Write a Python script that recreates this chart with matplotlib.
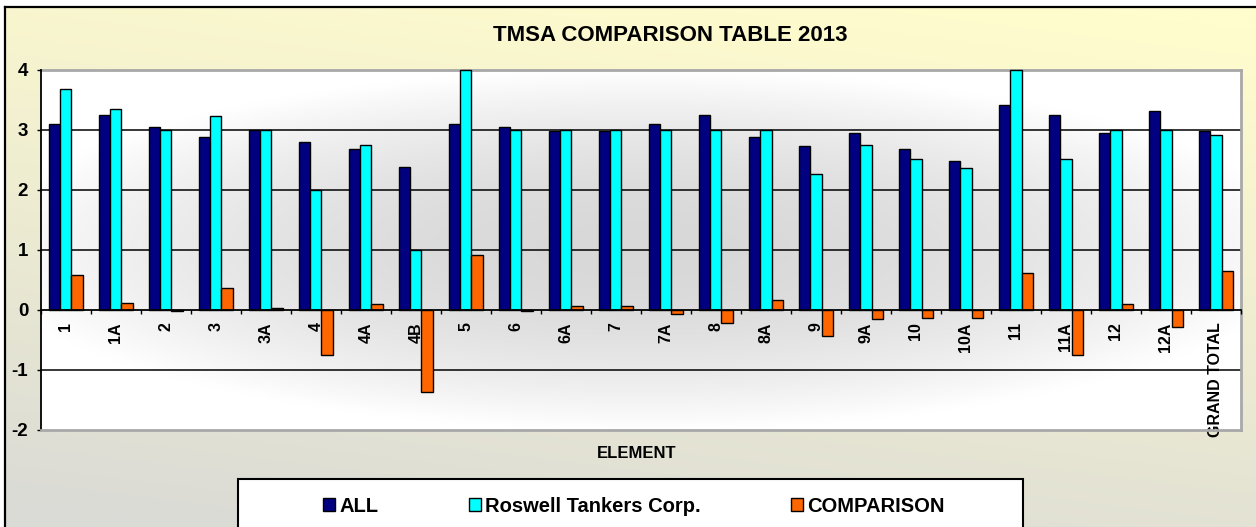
import numpy as np
import matplotlib
matplotlib.use('Agg')
import matplotlib.pyplot as plt
from matplotlib.patches import Rectangle, Patch

categories = ['1', '1A', '2', '3', '3A', '4', '4A', '4B', '5', '6', '6A', '7',
              '7A', '8', '8A', '9', '9A', '10', '10A', '11', '11A', '12', '12A',
              'GRAND TOTAL']
all_vals = [3.10, 3.25, 3.04, 2.88, 3.00, 2.79, 2.67, 2.38, 3.10, 3.04, 2.97, 2.97,
            3.10, 3.25, 2.88, 2.73, 2.95, 2.67, 2.48, 3.41, 3.25, 2.95, 3.31, 2.97]
roswell_vals = [3.68, 3.34, 3.00, 3.22, 3.00, 2.00, 2.75, 1.00, 4.00, 3.00, 3.00, 3.00,
                3.00, 3.00, 3.00, 2.26, 2.75, 2.51, 2.36, 4.00, 2.51, 3.00, 3.00, 2.91]
comparison_vals = [0.58, 0.12, -0.02, 0.37, 0.03, -0.75, 0.09, -1.37, 0.92, -0.02, 0.06, 0.06,
                   -0.07, -0.22, 0.16, -0.44, -0.16, -0.13, -0.13, 0.62, -0.75, 0.09, -0.28, 0.65]
series_names = ['ALL', 'Roswell Tankers Corp.', 'COMPARISON']
series_colors = ['#000080', '#00FFFF', '#FF6600']
y_ticks = [-2, -1, 0, 1, 2, 3, 4]
title = 'TMSA COMPARISON TABLE 2013'
x_label = 'ELEMENT'

ARIAL = ['Liberation Sans', 'DejaVu Sans']

W, H = 1256, 527
fig = plt.figure(figsize=(W / 100, H / 100), dpi=100)

# ---- figure background gradient ----
bg = fig.add_axes([0, 0, 1, 1], zorder=-10)
bg.set_axis_off()
yy, xx = np.mgrid[0:1:200j, 0:1:400j]   # yy: 0 top -> 1 bottom
t = np.clip(0.85 * yy + 0.25 * (1 - xx) - 0.05, 0, 1)
t = t ** 1.1
top_c = np.array([255, 252, 205]) / 255
bot_c = np.array([219, 219, 214]) / 255
img = top_c[None, None, :] * (1 - t[..., None]) + bot_c[None, None, :] * t[..., None]
bg.imshow(img, extent=[0, W, H, 0], aspect='auto', interpolation='bilinear')
bg.set_xlim(0, W)
bg.set_ylim(H, 0)
bg.add_patch(Rectangle((0, 0), W, 7, facecolor='white', edgecolor='none'))
bg.add_patch(Rectangle((0, 0), 5, H, facecolor='white', edgecolor='none'))
bg.plot([5, W], [7, 7], color='black', lw=1.6)
bg.plot([5, 5], [7, H], color='black', lw=1.6)

# ---- main axes ----
left, right, top, bottom = 40.7, 1241, 69.5, 430
ax = fig.add_axes([left / W, 1 - bottom / H, (right - left) / W, (bottom - top) / H])

# plot-area gradient (grey centre -> white edges)
gy, gx = np.mgrid[-1:1:200j, -1:1:600j]
tt = np.clip(np.sqrt((gx * 0.9) ** 2 + gy ** 2), 0, 1) ** 2
grey, white = 216 / 255, 1.0
pimg = grey + (white - grey) * tt
ax.imshow(np.dstack([pimg] * 3), extent=[0, 1, 0, 1], transform=ax.transAxes,
          aspect='auto', zorder=0, interpolation='bilinear')
ax.set_xlim(-0.5, len(categories) - 0.5)
ax.set_ylim(y_ticks[0], y_ticks[-1])

for g in [1, 2, 3, -1]:
    ax.axhline(g, color='black', lw=1.1, zorder=0.8)
ax.axhline(-2, color='#A8A8A8', lw=2.0, zorder=3, clip_on=False)

x = np.arange(len(categories))
bw = 0.225
offs = [-0.225, 0.0, 0.225]
for vals, col, off, name in zip([all_vals, roswell_vals, comparison_vals],
                                series_colors, offs, series_names):
    bars = ax.bar(x + off, vals, width=bw, color=col, edgecolor='black', linewidth=1.0,
                  zorder=1, label=name)
    for b in bars:
        b.set_clip_on(False)

# spines
ax.spines['bottom'].set_position(('data', 0))
ax.spines['bottom'].set_color('black')
ax.spines['bottom'].set_linewidth(1.3)
ax.spines['left'].set_color('black')
ax.spines['left'].set_linewidth(1.3)
for s in ['top', 'right']:
    ax.spines[s].set_color('#A8A8A8')
    ax.spines[s].set_linewidth(2.0)
    ax.spines[s].set_zorder(0.9)

ax.set_yticks(y_ticks)
ax.set_yticklabels([str(v) for v in y_ticks], fontfamily=ARIAL,
                   fontweight='bold', fontsize=13.5)
ax.tick_params(axis='y', direction='out', length=3, width=1.0, pad=6, colors='black')

ax.set_xticks(x)
ax.set_xticklabels(categories, rotation=90, fontfamily=ARIAL, fontweight='bold',
                   fontsize=11.5, va='top', ha='center')
ax.tick_params(axis='x', which='major', length=0, pad=9)
ax.set_xticks(np.arange(len(categories) + 1) - 0.5, minor=True)
ax.tick_params(axis='x', which='minor', direction='out', length=3, width=1.0)

# title & axis label
fig.text(670 / W, 1 - 35.5 / H, title, ha='center', va='center',
         fontfamily=ARIAL, fontweight='bold', fontsize=16)
fig.text(637 / W, 1 - 453 / H, x_label, ha='center', va='center',
         fontfamily=ARIAL, fontweight='bold', fontsize=12)

# legend box
bg.add_patch(Rectangle((238, 479), 1023 - 238, 60, facecolor='white',
                       edgecolor='black', lw=1.5, zorder=2))
handles = [Patch(facecolor=c, edgecolor='black', linewidth=1.0) for c in series_colors]
leg = fig.legend(handles, series_names, ncol=3, loc='center',
                 bbox_to_anchor=(634 / W, 1 - 506 / H), frameon=False,
                 prop=dict(family=ARIAL, weight='bold', size=14.5),
                 handlelength=0.58, handleheight=0.6, handletextpad=0.22,
                 columnspacing=4.5, borderpad=0.2)

fig.savefig('out.png', dpi=100)
